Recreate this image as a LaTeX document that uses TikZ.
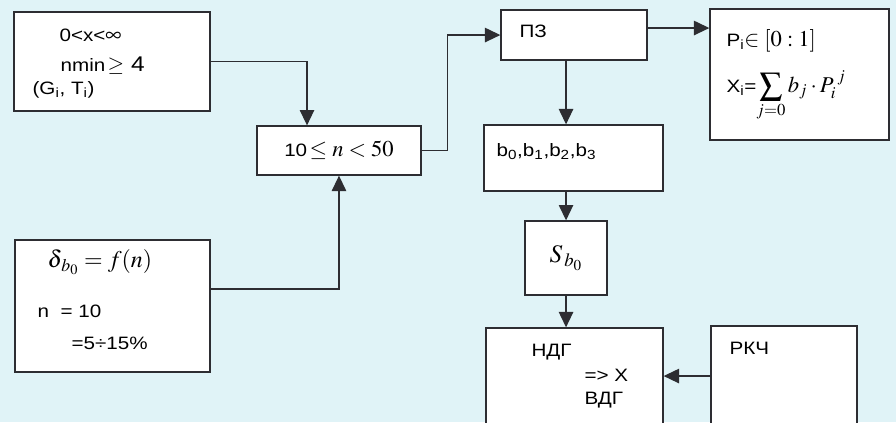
\documentclass[tikz,border=0pt]{standalone}
\usepackage{mathptmx}
\usepackage[no-math]{fontspec}
\setmainfont[FakeStretch=1.15]{Liberation Sans}
\usetikzlibrary{arrows.meta}
\definecolor{scanbg}{RGB}{224,243,247}
\definecolor{boxline}{RGB}{45,45,50}

\begin{document}
\begin{tikzpicture}[x=1in,y=1in,>={Triangle[length=0.16in,width=0.15in]},
 font=\fontsize{13.5}{16}\selectfont,
 blk/.style={draw=boxline,fill=white,line width=1pt},
 txt/.style={anchor=base west,inner sep=0pt},
 link/.style={->,draw=boxline,line width=1pt}]
\useasboundingbox (0,0) rectangle (9.333,4.396);
\clip (0,0) rectangle (9.333,4.396);
\fill[scanbg] (0,0) rectangle (9.333,4.396);

% boxes
\node[blk,minimum width=2.042in,minimum height=1.031in] (lim) at (1.167,3.755) {};
\node[blk,minimum width=1.708in,minimum height=0.51in] (range) at (3.531,2.828)
 {10{\fontsize{17}{20}\selectfont$\,\leq n<50$}};
\node[blk,minimum width=2.031in,minimum height=1.375in] (acc) at (1.172,1.208) {};
\node[blk,minimum width=1.521in,minimum height=0.521in] (pz) at (5.979,4.031) {};
\node[blk,minimum width=1.865in,minimum height=1.365in] (poly) at (8.328,3.620) {};
\node[blk,minimum width=1.865in,minimum height=0.6875in] (coef) at (5.974,2.75) {};
\node[blk,minimum width=0.854in,minimum height=0.771in] (sb) at (5.896,1.708)
 {\fontsize{19}{21}\selectfont$S_{\,b_0}$};
\node[blk,minimum width=1.844in,minimum height=1.167in] (ndg) at (5.984,0.396) {};
\node[blk,minimum width=1.521in,minimum height=1.1875in] (rkch) at (8.167,0.406) {};

% texts
\node[txt] (limx) at ([xshift=0.479in,yshift=-0.3125in]lim.north west)
 {0<x<{\fontsize{17}{19}\selectfont$\infty$}};
\node[txt] (limn) at ([xshift=0.49in,yshift=-0.625in]lim.north west)
 {nmin{\fontsize{16}{18}\selectfont$\,\geq$ 4}};
\node[txt] (limg) at ([xshift=0.198in,yshift=-0.865in]lim.north west) {(G\textsubscript{i}, T\textsubscript{i})};
\node[txt] (accd) at ([xshift=0.344in,yshift=-0.292in]acc.north west)
 {\fontsize{18}{20}\selectfont$\delta_{\,b_0}=f(n)$};
\node[txt] (accn) at ([xshift=0.24in,yshift=-0.8125in]acc.north west) {n\ \ = 10};
\node[txt] (accp) at ([xshift=0.594in,yshift=-1.146in]acc.north west) {=5÷15\%};
\node[txt] (pzt) at ([xshift=0.198in,yshift=-0.292in]pz.north west) {ПЗ};
\node[txt] (polyp) at ([xshift=0.177in,yshift=-0.396in]poly.north west)
 {P\textsubscript{i}{\fontsize{17}{19}\selectfont$\in[0:1]$}};
\node[txt] (polyx) at ([xshift=0.177in,yshift=-0.875in]poly.north west)
 {X\textsubscript{i}={\fontsize{17}{19}\selectfont$\displaystyle\sum_{j=0}b_j\cdot P_i^{\;j}$}};
\node[txt] (coeft) at ([xshift=0.135in,yshift=-0.333in]coef.north west)
 {b\textsubscript{0},b\textsubscript{1},b\textsubscript{2},b\textsubscript{3}};
\node[txt] (ndgt) at ([xshift=0.479in,yshift=-0.302in]ndg.north west) {НДГ};
\node[txt] (ndgx) at ([xshift=1.031in,yshift=-0.5625in]ndg.north west) {=> X};
\node[txt] (ndgv) at ([xshift=1.031in,yshift=-0.802in]ndg.north west) {ВДГ};
\node[txt] (rkcht) at ([xshift=0.198in,yshift=-0.302in]rkch.north west) {РКЧ};

% connectors
\draw[link] (lim.east) -| ([xshift=-0.333in]range.north);
\draw[link] ([yshift=0.177in]acc.east) -| (range.south);
\draw[link] (range.east) -- ++(0.271,0) |- (pz.west);
\draw[link] ([yshift=0.073in]pz.east) -- ([yshift=0.073in]pz.east -| poly.west);
\draw[link] (pz.south -| sb.north) -- (coef.north -| sb.north);
\draw[link] (coef.south -| sb.north) -- (sb.north);
\draw[link] (sb.south) -- (ndg.north -| sb.south);
\draw[link] ([yshift=0.073in]rkch.west) -- ([yshift=0.073in]rkch.west -| ndg.east);
\end{tikzpicture}
\end{document}
